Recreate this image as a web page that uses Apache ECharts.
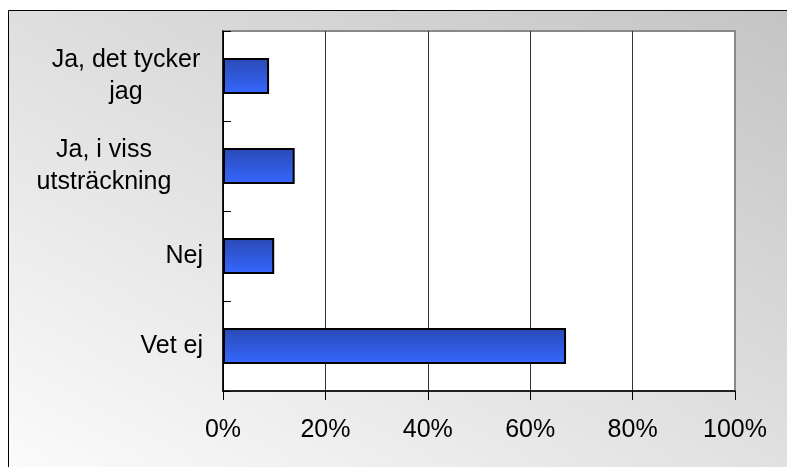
<!DOCTYPE html>
<html>
<head>
<meta charset="utf-8">
<script src="https://cdn.jsdelivr.net/npm/echarts@6/dist/echarts.min.js"></script>
<style>
html,body{margin:0;padding:0;background:#fff;}
#chart{width:787px;height:467px;}
</style>
</head>
<body>
<div id="chart"></div>
<script>
const categories = ['Vet ej', 'Nej', 'Ja, i viss\nutsträckning', 'Ja, det tycker\njag'];
const values = [67, 10, 14, 9];
const xTicks = [0, 20, 40, 60, 80, 100];

const chart = echarts.init(document.getElementById('chart'), null, {renderer: 'canvas'});

function labelFmt(v) {
  if (v.indexOf('tycker') >= 0) return '{a|Ja, det tycker}\n{a|jag}';
  if (v.indexOf('viss') >= 0) return '{b|Ja, i viss}\n{b|utsträckning}';
  return '{c|' + v + '}';
}

const font = 'Liberation Sans, Arial, Helvetica, sans-serif';
const fs = 25;

const bgGrad = new echarts.graphic.LinearGradient(8, 467, 376, -213, [
  {offset: 0, color: '#fbfbfb'},
  {offset: 1, color: '#c4c4c4'}
], true);

chart.setOption({
  animation: false,
  backgroundColor: '#ffffff',
  graphic: [{
    type: 'rect',
    z: -10,
    silent: true,
    shape: {x: 8.5, y: 10.5, width: 800, height: 500},
    style: {
      fill: bgGrad,
      stroke: '#000',
      lineWidth: 1
    }
  }],
  grid: {
    left: 223, top: 31, right: 52, bottom: 76,
    show: true,
    backgroundColor: '#ffffff',
    borderColor: '#888888',
    borderWidth: 2
  },
  xAxis: {
    type: 'value',
    min: 0, max: 100, interval: 20,
    axisLine: {show: true, lineStyle: {color: '#000', width: 1.5}},
    axisTick: {show: true, length: 9, lineStyle: {color: '#000', width: 1}},
    axisLabel: {
      formatter: function (v) { return xTicks.indexOf(v) >= 0 ? v + '%' : ''; },
      color: '#000', fontSize: fs, fontFamily: font, margin: 27
    },
    splitLine: {show: true, lineStyle: {color: ['#000', '#333', '#333', '#333', '#333', '#888'], width: 1}}
  },
  yAxis: {
    type: 'category',
    data: categories,
    axisLine: {show: true, lineStyle: {color: '#000', width: 1.5}},
    axisTick: {show: true, inside: true, length: 8, lineStyle: {color: '#000', width: 1}},
    axisLabel: {
      margin: 20,
      formatter: labelFmt,
      color: '#000', fontSize: fs, fontFamily: font,
      lineHeight: 32,
      rich: {
        a: {width: 154, align: 'center', fontSize: fs, fontFamily: font, color: '#000', lineHeight: 32},
        b: {width: 136, align: 'center', fontSize: fs, fontFamily: font, color: '#000', lineHeight: 32, padding: [0, 31, 0, 0]},
        c: {align: 'right', fontSize: fs, fontFamily: font, color: '#000', lineHeight: 32}
      }
    }
  },
  series: [{
    type: 'bar',
    data: values,
    barWidth: '40%',
    itemStyle: {
      color: new echarts.graphic.LinearGradient(0, 0, 0, 1, [
        {offset: 0, color: '#2a49b5'},
        {offset: 1, color: '#3568ff'}
      ]),
      borderColor: '#000',
      borderWidth: 2
    }
  }]
});
</script>
</body>
</html>
